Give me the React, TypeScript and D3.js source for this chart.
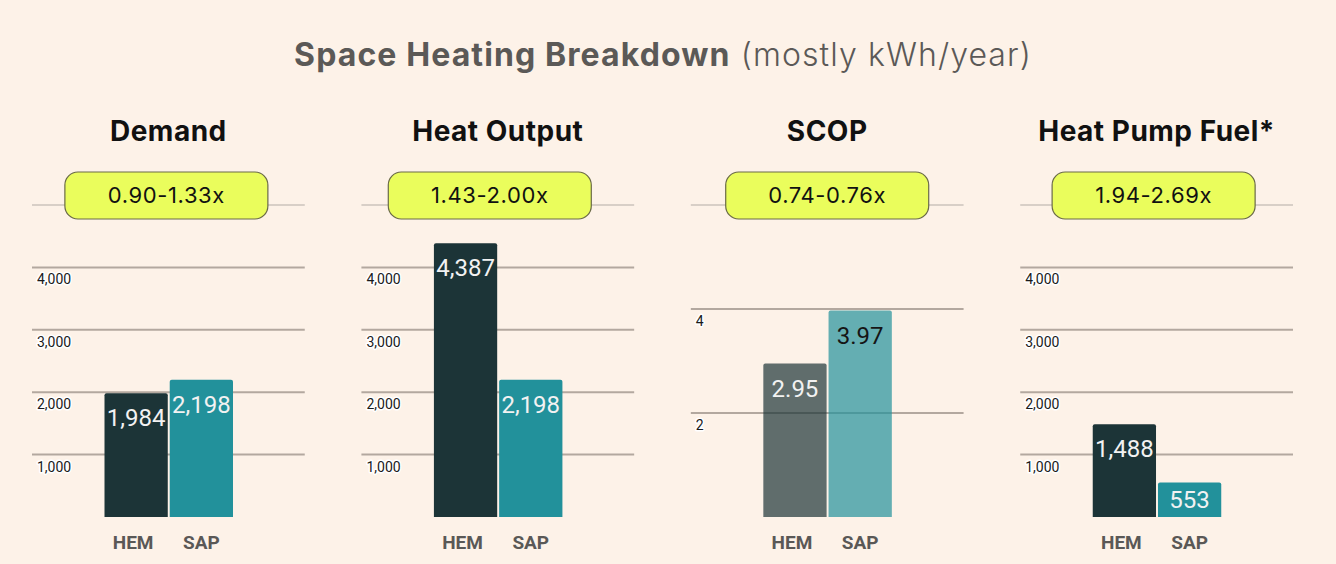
import React from 'react';
import * as d3 from 'd3';

const panelTitles = ['Demand', 'Heat Output', 'SCOP', 'Heat Pump Fuel*'];
const ratioLabels = ['0.90-1.33x', '1.43-2.00x', '0.74-0.76x', '1.94-2.69x'];
const models = ['HEM', 'SAP'];
const demand = [1984, 2198];
const heatOutput = [4387, 2198];
const scop = [2.95, 3.97];
const heatPumpFuel = [1488, 553];
const kwhTicks = [1000, 2000, 3000, 4000, 5000];
const scopTicks = [2, 4, 6];

const width = 1336;
const height = 564;
const baseY = 517;
const topY = 205;

type Panel = {
  title: string;
  ratio: string;
  values: number[];
  max: number;
  ticks: number[];
  fmt: (v: number) => string;
  faded: boolean;
  badgeShift: number;
};

const kwhFmt = d3.format(',');
const scopFmt = d3.format('.2f');

const panels: Panel[] = [
  { title: panelTitles[0], ratio: ratioLabels[0], values: demand, max: 5000, ticks: kwhTicks, fmt: kwhFmt, faded: false, badgeShift: -2 },
  { title: panelTitles[1], ratio: ratioLabels[1], values: heatOutput, max: 5000, ticks: kwhTicks, fmt: kwhFmt, faded: false, badgeShift: -8 },
  { title: panelTitles[2], ratio: ratioLabels[2], values: scop, max: 6, ticks: scopTicks, fmt: scopFmt, faded: true, badgeShift: 0 },
  { title: panelTitles[3], ratio: ratioLabels[3], values: heatPumpFuel, max: 5000, ticks: kwhTicks, fmt: kwhFmt, faded: false, badgeShift: -3 },
];

const colors = ['#1c3437', '#22919b'];
const bg = '#fdf2e8';

// bar with slightly rounded top corners
const barPath = (x: number, y: number, w: number, h: number, r = 2) =>
  `M${x},${y + h}V${y + r}Q${x},${y} ${x + r},${y}H${x + w - r}Q${x + w},${y} ${x + w},${y + r}V${y + h}Z`;

const panelX = d3.scaleBand<number>().domain(d3.range(4)).range([32, 1293]).paddingInner(0.172);

function BarPanel({ p, i }: { p: Panel; i: number }) {
  const left = panelX(i)!;
  const pw = panelX.bandwidth();
  const cx = left + pw / 2;
  const bcx = cx + p.badgeShift;
  const y = d3.scaleLinear().domain([0, p.max]).range([baseY, topY]);
  const x = d3.scaleBand<string>().domain(models).range([left + 72.5, left + 201]).paddingInner(0.03);

  return (
    <g>
      <text x={cx} y={141} textAnchor="middle" fontFamily="Inter" fontWeight={700} fontSize={28} fill="#111" letterSpacing={0.5}>
        {p.title}
      </text>
      {p.ticks.map((t) => (
        <line key={t} x1={left} x2={left + pw} y1={y(t)} y2={y(t)}
          stroke={t === p.max ? '#cbc3bc' : '#b3a89f'} strokeWidth={t === p.max ? 1.5 : 2} />
      ))}
      {p.ticks.filter((t) => t < p.max).map((t) => (
        <text key={t} x={left + 5} y={y(t) + 17} fontFamily="Roboto" fontSize={14} fill="#1a1a1a"
          stroke="#fff" strokeWidth={3} paintOrder="stroke" strokeLinejoin="round">
          {kwhFmt(t)}
        </text>
      ))}
      {p.values.map((v, j) => {
        const bx = x(models[j])!;
        const bw = x.bandwidth();
        const top = y(v);
        const h = baseY - top;
        const ly = h > 60 ? top + 33 : (top + baseY) / 2 + 8.5;
        const txt = p.faded && j === 1 ? '#151515' : '#f2f2f2';
        return (
          <g key={j}>
            <path d={barPath(bx, top, bw, h)} fill={colors[j]} opacity={p.faded ? 0.7 : 1} />
            <text x={bx + bw / 2} y={ly} textAnchor="middle" fontFamily="Roboto" fontSize={24} fill={txt}>
              {p.fmt(v)}
            </text>
            <text x={bx + bw / 2 - (j === 0 ? 3 : 0)} y={549} textAnchor="middle" fontFamily="Roboto" fontWeight={700} fontSize={19} fill="#5a5856">
              {models[j]}
            </text>
          </g>
        );
      })}
      <rect x={bcx - 101.5} y={172} width={203} height={47} rx={13} fill="#eafd5c" stroke="#6a6a48" strokeWidth={1.2} />
      <text x={bcx} y={203} textAnchor="middle" fontFamily="Inter" fontSize={22} fill="#111" letterSpacing={0.6}>
        {p.ratio}
      </text>
    </g>
  );
}

export default function App() {
  return (
    <svg width={width} height={height} style={{ position: 'absolute', left: 0, top: 0 }}>
      <rect width={width} height={height} fill={bg} />
      <text x={663} y={66} textAnchor="middle" fontFamily="Inter" fontSize={32} fill="#5b5957" letterSpacing={1.1}>
        <tspan fontWeight={700}>Space Heating Breakdown</tspan>
        <tspan fontWeight={300}> (mostly kWh/year)</tspan>
      </text>
      {panels.map((p, i) => (
        <BarPanel key={i} p={p} i={i} />
      ))}
    </svg>
  );
}
